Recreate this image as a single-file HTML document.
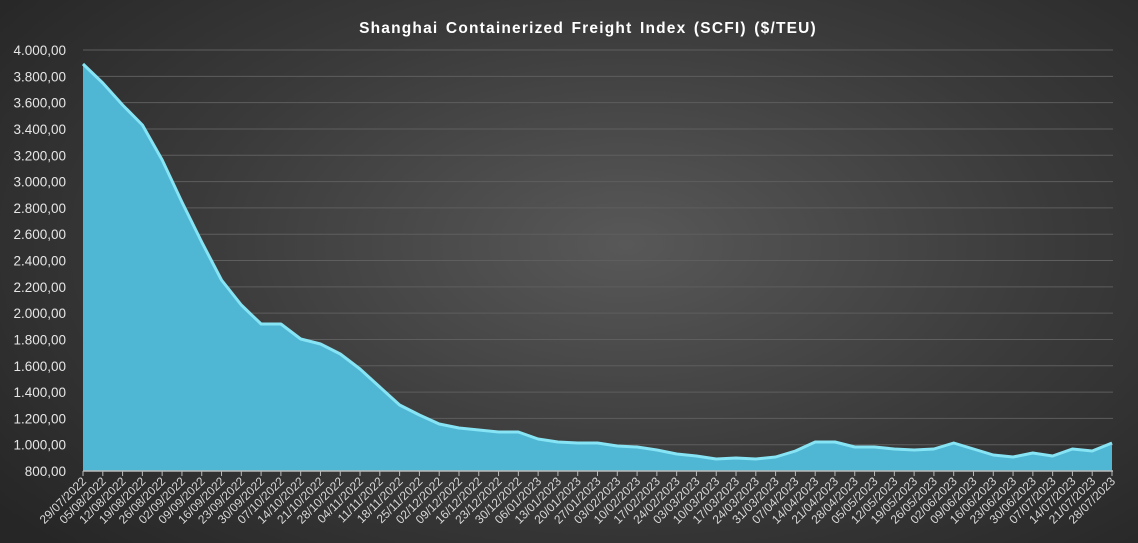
<!DOCTYPE html>
<html><head><meta charset="utf-8"><style>
html,body{margin:0;padding:0;width:1138px;height:543px;overflow:hidden}
body{background:radial-gradient(ellipse 70% 80% at 55% 45%,#585858 0%,#3a3a3a 55%,#262626 100%);font-family:"Liberation Sans","DejaVu Sans",sans-serif}
</style></head><body>
<svg width="1138" height="543" xmlns="http://www.w3.org/2000/svg" style="position:absolute;left:0;top:0">
<text x="588" y="33" fill="#fff" font-size="15.5" font-weight="bold" text-anchor="middle" letter-spacing="1.2" word-spacing="2">Shanghai  Containerized Freight Index  (SCFI) ($/TEU)</text>
<g id="grid" stroke="#5e5e5e" stroke-width="1"></g>
<g id="ylab" fill="#e6e6e6" font-size="13.5" text-anchor="end"></g>
<path id="area" fill="#4fb6d4"/>
<path id="line" fill="none" stroke="#86e4f4" stroke-width="3" stroke-linejoin="round"/>
<line x1="83" y1="471" x2="1113" y2="471" stroke="#bbb" stroke-width="1.5"/>
<g id="ticks" stroke="#bbb"></g>
<g id="xlab" fill="#d8d8d8" font-size="12" text-anchor="end"></g>
</svg>
<script>
var ns="http://www.w3.org/2000/svg";
function el(t,a,p,txt){var e=document.createElementNS(ns,t);for(var k in a)e.setAttribute(k,a[k]);if(txt)e.textContent=txt;document.getElementById(p).appendChild(e);}
for(var i=0;i<=16;i++){var y=50+i*26.3125;if(i<16)el('line',{x1:83,x2:1113,y1:y,y2:y},'grid');
var v=4000-i*200;var s=v>=1000?Math.floor(v/1000)+'.'+String(v%1000).padStart(3,'0')+',00':v+',00';
el('text',{x:66,y:y+5},'ylab',s);}
var ys=[64,83,105,125,160,202,242,280,305,324,324,339,344,354,369,387,405,415,424,428,430,432,432,439,442,443,443,446,447,450,454,456,459,458,459,457,451,442,442,447,447,449,450,449,443,449,455,457,453,456,449,451,443];
var step=(1112-83)/52,pts=[];
for(var i=0;i<ys.length;i++){var x=83+i*step;pts.push(x.toFixed(1)+','+ys[i]);}
document.getElementById('line').setAttribute('d','M'+pts.join('L'));
document.getElementById('area').setAttribute('d','M83,471L'+pts.join('L')+'L1112,471Z');
var dt=new Date(2022,6,29);
for(var i=0;i<53;i++){var x=83+i*step;el('line',{x1:x,x2:x,y1:471,y2:476},'ticks');
var dd=String(dt.getDate()).padStart(2,'0')+'/'+String(dt.getMonth()+1).padStart(2,'0')+'/'+dt.getFullYear();
el('text',{x:x+4,y:482,transform:'rotate(-45 '+(x+4)+' 482)'},'xlab',dd);
dt.setDate(dt.getDate()+7);}
</script>
</body></html>
